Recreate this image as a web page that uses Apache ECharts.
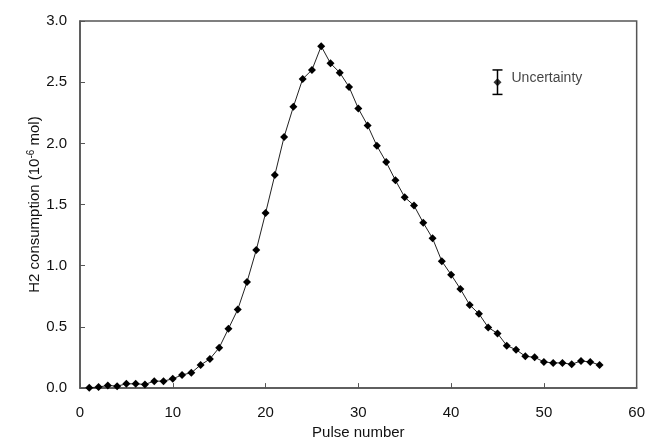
<!DOCTYPE html>
<html>
<head>
<meta charset="utf-8">
<script src="https://cdn.jsdelivr.net/npm/echarts@6/dist/echarts.min.js"></script>
<style>html,body{margin:0;padding:0;background:#fff}#c{width:648px;height:445px}</style>
</head>
<body>
<div id="c"></div>
<script>
var pulses = [1,2,3,4,5,6,7,8,9,10,11,12,13,14,15,16,17,18,19,20,21,22,23,24,25,26,27,28,29,30,31,32,33,34,35,36,37,38,39,40,41,42,43,44,45,46,47,48,49,50,51,52,53,54,55,56];
var h2 = [0.003,0.008,0.022,0.016,0.035,0.035,0.030,0.057,0.057,0.076,0.108,0.125,0.189,0.238,0.330,0.485,0.642,0.867,1.129,1.43,1.741,2.053,2.299,2.526,2.600,2.794,2.654,2.578,2.461,2.285,2.147,1.980,1.847,1.698,1.560,1.492,1.351,1.224,1.037,0.927,0.810,0.680,0.607,0.496,0.447,0.347,0.314,0.260,0.252,0.214,0.206,0.206,0.195,0.222,0.214,0.189];
var xTicks = [0,10,20,30,40,50,60];
var yTicks = [0,0.5,1.0,1.5,2.0,2.5,3.0];
var uncX = 45, uncY = 2.5, uncErr = 0.1;
var uncLabel = 'Uncertainty';

var font = 'Liberation Sans, Arial, sans-serif';
var chart = echarts.init(document.getElementById('c'), null, {renderer: 'canvas'});
var data = pulses.map(function(p, i){ return [p, h2[i]]; });
chart.setOption({
  animation: false,
  backgroundColor: '#fff',
  grid: {left: 80, right: 9, top: 21, bottom: 55, show: true, borderColor: '#555', borderWidth: 1.5, backgroundColor: 'transparent'},
  xAxis: {
    type: 'value', min: xTicks[0], max: xTicks[xTicks.length-1], interval: 10,
    name: 'Pulse number', nameLocation: 'middle', nameGap: 36,
    nameTextStyle: {fontFamily: font, fontSize: 15, color: '#111'},
    axisLine: {show: true, lineStyle: {color: '#555', width: 1.5}},
    axisTick: {show: true, inside: true, length: 5, lineStyle: {color: '#555'}},
    axisLabel: {fontFamily: font, fontSize: 15, color: '#111', margin: 17},
    splitLine: {show: false}
  },
  yAxis: {
    type: 'value', min: yTicks[0], max: yTicks[yTicks.length-1], interval: 0.5,
    name: '{a|H2 consumption (10}{s|-6}{a| mol)}', nameLocation: 'middle', nameGap: 36,
    nameMoveOverlap: false,
    nameTextStyle: {fontFamily: font, fontSize: 15, color: '#111',
      rich: {a: {fontFamily: font, fontSize: 15, color: '#111'}, s: {fontFamily: font, fontSize: 10, color: '#111', padding: [0,0,8,0]}}},
    axisLine: {show: true, lineStyle: {color: '#555', width: 1.5}},
    axisTick: {show: true, inside: true, length: 5, lineStyle: {color: '#555'}},
    axisLabel: {fontFamily: font, fontSize: 15, color: '#111', margin: 13, formatter: function(v){ return v.toFixed(1); }},
    splitLine: {show: false}
  },
  series: [
    {
      type: 'line', data: data, symbol: 'diamond', symbolSize: 8,
      lineStyle: {color: '#222', width: 1}, itemStyle: {color: '#000'}
    },
    {
      type: 'custom', data: [[uncX, uncY - uncErr, uncY + uncErr]],
      renderItem: function(params, api){
        var lo = api.coord([api.value(0), api.value(1)]);
        var hi = api.coord([api.value(0), api.value(2)]);
        var w = 5;
        var st = {stroke: '#000', lineWidth: 1.5};
        return {type: 'group', children: [
          {type: 'line', shape: {x1: lo[0], y1: lo[1], x2: hi[0], y2: hi[1]}, style: st},
          {type: 'line', shape: {x1: lo[0]-w, y1: lo[1], x2: lo[0]+w, y2: lo[1]}, style: st},
          {type: 'line', shape: {x1: hi[0]-w, y1: hi[1], x2: hi[0]+w, y2: hi[1]}, style: st}
        ]};
      }
    },
    {
      type: 'scatter', data: [[uncX, uncY]], symbol: 'diamond', symbolSize: 8,
      itemStyle: {color: '#000'},
      label: {show: true, position: 'right', distance: 10, offset: [0, -4], formatter: uncLabel,
        fontFamily: font, fontSize: 14, color: '#111'}
    }
  ]
});
</script>
</body>
</html>
